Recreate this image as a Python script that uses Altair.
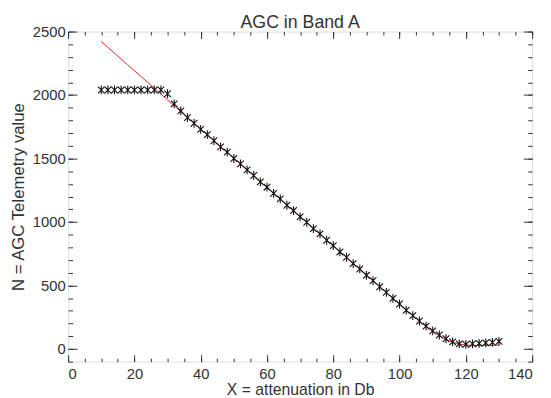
import altair as alt
import pandas as pd

# attenuation (dB) for the measured points
x_meas = [10, 12, 14, 16, 18, 20, 22, 24, 26, 28,
          30, 32, 34, 36, 38, 40, 42, 44, 46, 48,
          50, 52, 54, 56, 58, 60, 62, 64, 66, 68,
          70, 72, 74, 76, 78, 80, 82, 84, 86, 88,
          90, 92, 94, 96, 98, 100, 102, 104, 106, 108,
          110, 112, 114, 116, 118, 120, 122, 124, 126, 128, 130]
# AGC telemetry values (crosses)
n_meas = [2040, 2040, 2040, 2040, 2040, 2040, 2040, 2040, 2040, 2040,
          2010, 1930, 1875, 1822, 1778, 1730, 1688, 1640, 1592, 1550,
          1500, 1458, 1410, 1366, 1316, 1274, 1225, 1182, 1132, 1090,
          1040, 998, 948, 906, 856, 814, 764, 722, 672, 630,
          580, 538, 490, 446, 398, 354, 305, 262, 220, 180,
          142, 110, 80, 56, 40, 36, 40, 44, 48, 52, 60]
# fitted model (red line)
n_fit = [2422, 2376, 2330, 2284, 2238, 2192, 2146, 2100, 2054, 2008,
         1962, 1916, 1870, 1824, 1778, 1732, 1686, 1640, 1594, 1548,
         1502, 1456, 1410, 1364, 1318, 1272, 1226, 1180, 1134, 1088,
         1042, 996, 950, 904, 858, 812, 766, 720, 674, 628,
         582, 536, 490, 444, 398, 352, 306, 262, 218, 176,
         138, 104, 74, 52, 38, 31, 28, 28, 28, 29, 30]

x_major = [0, 20, 40, 60, 80, 100, 120, 140]
x_minor = [0, 5, 10, 15, 20, 25, 30, 35, 40, 45, 50, 55, 60, 65, 70,
           75, 80, 85, 90, 95, 100, 105, 110, 115, 120, 125, 130, 135, 140]
y_major = [0, 500, 1000, 1500, 2000, 2500]
y_minor = [-100, 0, 100, 200, 300, 400, 500, 600, 700, 800, 900, 1000,
           1100, 1200, 1300, 1400, 1500, 1600, 1700, 1800, 1900, 2000,
           2100, 2200, 2300, 2400, 2500]

meas = pd.DataFrame({"x": x_meas, "n": n_meas})
fit = pd.DataFrame({"x": x_meas, "n": n_fit})

FONT = "Liberation Sans"
AX = "#333333"
xs = alt.Scale(domain=[0, 140], nice=False, zero=False)
ys = alt.Scale(domain=[-100, 2500], nice=False, zero=False)

def axis(orient, values, size, labels=False, title=None, lpad=2, tpad=2, tsize=16):
    kw = dict(orient=orient, values=values, tickSize=size, offset=-size,
              domain=False, grid=False, labels=labels, tickColor=AX,
              tickWidth=1)
    if labels:
        kw.update(format="d", labelFont=FONT, labelFontSize=15, labelColor=AX,
                  labelPadding=lpad, title=title, titleFont=FONT,
                  titleFontSize=tsize, titleFontWeight="normal", titleColor=AX,
                  titlePadding=tpad)
    else:
        kw.update(title=None)
    return alt.Axis(**kw)

asterisk = "M-0.75,-0.75L0.75,0.75M-0.75,0.75L0.75,-0.75M0,-1L0,1"

pts = alt.Chart(meas).mark_point(
    shape=asterisk, filled=False, color="#111111", strokeWidth=1.1, size=80, opacity=1
).encode(
    x=alt.X("x:Q", scale=xs,
            axis=axis("bottom", x_major, 7, True, "X = attenuation in Db", 5, 0, 16)),
    y=alt.Y("n:Q", scale=ys,
            axis=axis("left", y_major, 9, True, "N = AGC Telemetry value", 3, 5, 17)),
)

line = alt.Chart(fit).mark_line(color="#e8262b", strokeWidth=1).encode(
    x=alt.X("x:Q", scale=xs, axis=axis("bottom", x_minor, 3.5)),
    y=alt.Y("n:Q", scale=ys, axis=axis("left", y_minor, 4.5)),
)

top_major = alt.Chart(meas).mark_point(opacity=0).encode(
    x=alt.X("x:Q", scale=xs, axis=axis("top", x_major, 7)),
    y=alt.Y("n:Q", scale=ys, axis=axis("right", y_major, 9)),
)

top_minor = alt.Chart(meas).mark_point(opacity=0).encode(
    x=alt.X("x:Q", scale=xs, axis=axis("top", x_minor, 3.5)),
    y=alt.Y("n:Q", scale=ys, axis=axis("right", y_minor, 4.5)),
)

chart = alt.layer(line, pts, top_major, top_minor).resolve_axis(
    x="independent", y="independent"
).properties(
    width=471, height=335,
    title=alt.TitleParams("AGC in Band A", font=FONT, fontSize=18,
                          fontWeight="normal", color=AX, anchor="middle", offset=-7),
    autosize=alt.AutoSizeParams(type="none"),
    padding={"left": 61, "top": 21, "right": 11, "bottom": 34},
).configure_view(stroke=AX, strokeWidth=1).configure(background="white")

chart.save("out.html", embed_options={"renderer": "svg", "actions": False})
